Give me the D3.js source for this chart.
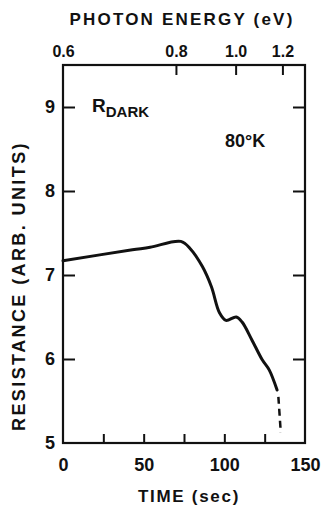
<!DOCTYPE html>
<html>
<head>
<meta charset="utf-8">
<script src="https://cdn.jsdelivr.net/npm/d3@7"></script>
<style>
  body { margin: 0; background: #fff; }
  text { font-family: "Liberation Sans", Arial, sans-serif; fill: #111; }
</style>
</head>
<body>
<svg id="chart" width="324" height="507"></svg>
<script>
// resistance vs time
var timeVals = [0, 43, 54, 73, 79, 86.4, 92, 97, 101, 107.4, 111, 117, 123.5, 127.8, 132.7];
var resVals  = [7.17, 7.30, 7.33, 7.40, 7.31, 7.10, 6.86, 6.55, 6.46, 6.50, 6.44, 6.23, 5.99, 5.87, 5.63];
// dashed tail
var tailTime = [133.5, 135];
var tailRes  = [5.55, 5.12];

var timeTicks = [25, 50, 75, 100, 125];
var timeLabels = [0, 50, 100, 150];
var resTicks = [6, 7, 8, 9];
var resLabels = [5, 6, 7, 8, 9];
// photon energy ticks and the time each sits over
var energyTicks = [0.6, 0.8, 1.0, 1.2];
var energyAtTime = [0, 70, 107, 136];

var svg = d3.select("#chart"),
  margin = { top: 65, right: 19, bottom: 64, left: 63 },
  width = +svg.attr("width") - margin.left - margin.right,
  height = +svg.attr("height") - margin.top - margin.bottom,
  g = svg.append("g").attr("transform", "translate(" + margin.left + "," + margin.top + ")");

var x = d3.scaleLinear().domain([0, 150]).range([0, width]);
var y = d3.scaleLinear().domain([5, 9.5]).range([height, 0]);
var xTop = d3.scaleLinear().domain(energyTicks).range(energyAtTime.map(x));

function styleLabels(a, size) {
  a.select(".domain").remove();
  a.selectAll("text")
    .attr("font-size", size)
    .attr("font-weight", "bold")
    .attr("fill", "#111")
    .style("font-family", "'Liberation Sans', Arial, sans-serif");
}
function styleTicks(a) {
  a.select(".domain").remove();
  a.selectAll("line").attr("stroke", "#111").attr("stroke-width", 2);
}

// bottom ticks (inward) + labels
g.append("g")
  .attr("transform", "translate(0," + height + ")")
  .call(d3.axisBottom(x).tickValues(timeTicks).tickSize(-9).tickFormat(""))
  .call(styleTicks);

g.append("g")
  .attr("transform", "translate(0," + height + ")")
  .call(d3.axisBottom(x).tickValues(timeLabels).tickSize(0).tickPadding(15).tickFormat(d3.format("d")))
  .call(a => styleLabels(a, 18));

// left axis
g.append("g")
  .call(d3.axisLeft(y).tickValues(resTicks).tickSize(-12).tickFormat(""))
  .call(styleTicks);

g.append("g")
  .call(d3.axisLeft(y).tickValues(resLabels).tickSize(0).tickPadding(8).tickFormat(d3.format("d")))
  .call(a => styleLabels(a, 18));

// right axis ticks
g.append("g")
  .attr("transform", "translate(" + width + ",0)")
  .call(d3.axisRight(y).tickValues(resTicks).tickSize(-12).tickFormat(""))
  .call(styleTicks);

// top axis: photon energy
g.append("g")
  .call(d3.axisTop(xTop).tickValues(energyTicks.slice(1)).tickSize(-10).tickFormat(""))
  .call(styleTicks);

g.append("g")
  .call(d3.axisTop(xTop).tickValues(energyTicks).tickSize(0).tickPadding(8).tickFormat(d3.format(".1f")))
  .call(a => styleLabels(a, 16));

// frame
g.append("rect")
  .attr("width", width)
  .attr("height", height)
  .attr("fill", "none")
  .attr("stroke", "#111")
  .attr("stroke-width", 2.2);

var line = d3.line()
  .x(d => x(d[0]))
  .y(d => y(d[1]))
  .curve(d3.curveCatmullRom);

g.append("path")
  .attr("fill", "none")
  .attr("stroke", "#111")
  .attr("stroke-width", 3)
  .attr("stroke-linejoin", "round")
  .attr("stroke-linecap", "round")
  .attr("d", line(d3.zip(timeVals, resVals)));

g.append("path")
  .attr("fill", "none")
  .attr("stroke", "#111")
  .attr("stroke-width", 2.5)
  .attr("stroke-dasharray", "7,5")
  .attr("d", d3.line().x(d => x(d[0])).y(d => y(d[1]))(d3.zip(tailTime, tailRes)));

// titles
svg.append("text")
  .attr("x", 182).attr("y", 25)
  .attr("text-anchor", "middle")
  .attr("font-size", "17px")
  .attr("font-weight", "bold")
  .attr("letter-spacing", "2.2px")
  .text("PHOTON ENERGY (eV)");

svg.append("text")
  .attr("x", 189).attr("y", 502)
  .attr("text-anchor", "middle")
  .attr("font-size", "17px")
  .attr("font-weight", "bold")
  .attr("letter-spacing", "1.7px")
  .text("TIME (sec)");

svg.append("text")
  .attr("transform", "translate(25,286) rotate(-90)")
  .attr("text-anchor", "middle")
  .attr("font-size", "18px")
  .attr("font-weight", "bold")
  .attr("letter-spacing", "2.4px")
  .text("RESISTANCE (ARB. UNITS)");

// annotations
var rd = g.append("text")
  .attr("x", 29).attr("y", 47)
  .attr("font-size", "19px")
  .attr("font-weight", "bold");
rd.append("tspan").text("R");
rd.append("tspan").attr("dy", 5).attr("font-size", "15px").text("DARK");

g.append("text")
  .attr("x", 162).attr("y", 82)
  .attr("font-size", "18px")
  .attr("font-weight", "bold")
  .text("80°K");
</script>
</body>
</html>
